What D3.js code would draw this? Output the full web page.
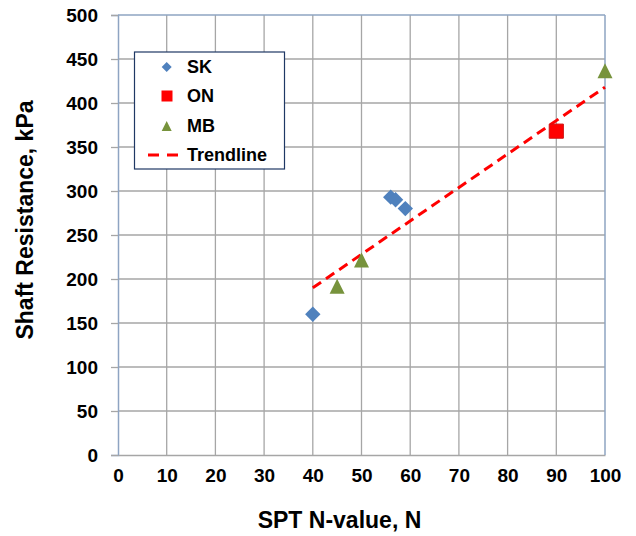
<!DOCTYPE html>
<html><head><meta charset="utf-8">
<script src="https://cdn.jsdelivr.net/npm/d3@7"></script>
<style>body{margin:0;background:#fff}svg text{font-family:"Liberation Sans",Arial,sans-serif;font-weight:bold;fill:#000}</style>
</head><body><svg id="c" width="636" height="536"></svg>
<script>
const skX=[40,56,57,59], skY=[160,293,290,280];
const onX=[90], onY=[368];
const mbX=[45,50,100], mbY=[190,220,435];
const trendX=[40,100], trendY=[190,418];
const xTicks=[0,10,20,30,40,50,60,70,80,90,100];
const yTicks=[0,50,100,150,200,250,300,350,400,450,500];
const legendLabels=["SK","ON","MB","Trendline"];
const xTitle="SPT N-value, N", yTitle="Shaft Resistance, kPa";

const svg=d3.select("#c");
const L=118,R=605,T=15,B=455;
const x=d3.scaleLinear().domain([0,100]).range([L,R]);
const y=d3.scaleLinear().domain([0,500]).range([B,T]);
const grid="#a6a6a6";

// gridlines
svg.append("g").selectAll("line").data(xTicks.slice(1,-1)).join("line")
 .attr("x1",d=>x(d)).attr("x2",d=>x(d)).attr("y1",T).attr("y2",B).attr("stroke",grid).attr("stroke-width",1.3);
svg.append("g").selectAll("line").data(yTicks.slice(1,-1)).join("line")
 .attr("x1",L).attr("x2",R).attr("y1",d=>y(d)).attr("y2",d=>y(d)).attr("stroke",grid).attr("stroke-width",1.3);

// axes
const ya=svg.append("g").attr("transform",`translate(${L},0)`).call(d3.axisLeft(y).tickValues(yTicks).tickSize(7).tickPadding(13));
ya.select(".domain").attr("stroke","#8ea4c2").attr("stroke-width",1.5);
ya.selectAll(".tick line").attr("stroke",grid).attr("stroke-width",1.3);
ya.selectAll("text").attr("font-size",19).attr("font-family","Liberation Sans, Arial").attr("font-weight","bold").attr("fill","#000");
const xa=svg.append("g").attr("transform",`translate(0,${B})`).call(d3.axisBottom(x).tickValues(xTicks).tickSize(0).tickPadding(14));
xa.select(".domain").attr("stroke",grid).attr("stroke-width",1.5);
xa.selectAll("text").attr("font-size",19).attr("font-family","Liberation Sans, Arial").attr("font-weight","bold").attr("fill","#000");
// top & right border
svg.append("line").attr("x1",L).attr("x2",R).attr("y1",T).attr("y2",T).attr("stroke","#8ea4c2").attr("stroke-width",1.5);
svg.append("line").attr("x1",R).attr("x2",R).attr("y1",T).attr("y2",B).attr("stroke","#8ea4c2").attr("stroke-width",1.5);

// trendline
svg.append("line").attr("x1",x(trendX[0])).attr("y1",y(trendY[0])).attr("x2",x(trendX[1])).attr("y2",y(trendY[1]))
 .attr("stroke","#ff0000").attr("stroke-width",3).attr("stroke-dasharray","10,6");

const sym=(t,s)=>d3.symbol().type(t).size(s);
// SK diamonds
svg.append("g").selectAll("path").data(skX.map((v,i)=>[v,skY[i]])).join("path")
 .attr("d",d3.symbol().type(d3.symbolSquare).size(118)()).attr("transform",d=>`translate(${x(d[0])},${y(d[1])}) rotate(45)`)
 .attr("fill","#4f81bd");
// ON squares
svg.append("g").selectAll("path").data(onX.map((v,i)=>[v,onY[i]])).join("path")
 .attr("d",d3.symbol().type(d3.symbolSquare).size(200)()).attr("transform",d=>`translate(${x(d[0])},${y(d[1])})`)
 .attr("fill","#ff0000").attr("stroke","#d01010").attr("stroke-width",1);
// MB triangles
const tri=s=>`M0,${-s*0.6}L${s/2},${s*0.4}L${-s/2},${s*0.4}Z`;
svg.append("g").selectAll("path").data(mbX.map((v,i)=>[v,mbY[i]])).join("path")
 .attr("d",tri(15)).attr("transform",d=>`translate(${x(d[0])},${y(d[1])})`)
 .attr("fill","#77933c");

// legend
const lg=svg.append("g");
lg.append("rect").attr("x",134.5).attr("y",52).attr("width",150).attr("height",117).attr("fill","#fff").attr("stroke","#1f3864").attr("stroke-width",1.2);
const ly=[67,96,126,155];
lg.append("path").attr("d",d3.symbol().type(d3.symbolSquare).size(50)()).attr("transform",`translate(166.7,${ly[0]}) rotate(45)`).attr("fill","#4f81bd");
lg.append("rect").attr("x",161.5).attr("y",ly[1]-5.5).attr("width",11).attr("height",11).attr("fill","#ff0000");
lg.append("path").attr("d",tri(10)).attr("transform",`translate(166.7,${ly[2]+1})`).attr("fill","#77933c");
lg.append("line").attr("x1",148).attr("x2",180).attr("y1",ly[3]).attr("y2",ly[3]).attr("stroke","#ff0000").attr("stroke-width",3).attr("stroke-dasharray","11,8");
lg.selectAll("text").data(legendLabels).join("text").attr("x",187).attr("y",(d,i)=>ly[i]).attr("dy","0.36em")
 .attr("font-size",18).text(d=>d);

// titles
svg.append("text").attr("x",(L+R)/2-22).attr("y",528).attr("text-anchor","middle").attr("font-size",23).text(xTitle);
svg.append("text").attr("transform","translate(33,220) rotate(-90)").attr("text-anchor","middle").attr("font-size",23).text(yTitle);
</script></body></html>
